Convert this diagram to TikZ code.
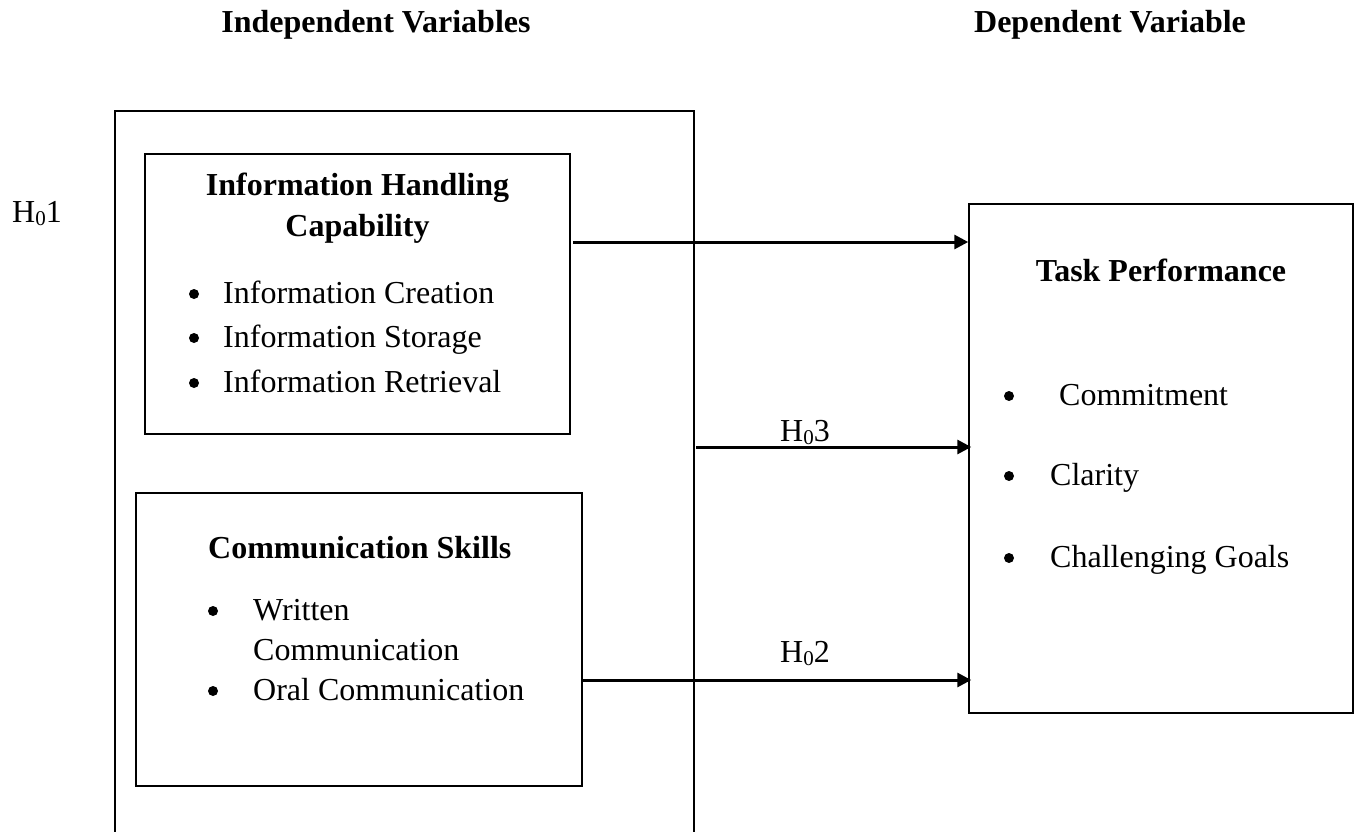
\documentclass[tikz,border=0pt]{standalone}
\usepackage{fontspec}
\setmainfont{Liberation Serif}
\usetikzlibrary{arrows.meta,calc}
\newcommand{\hyp}[1]{H\raisebox{-3pt}{\fontsize{21}{21}\selectfont 0}#1}
\begin{document}
\begin{tikzpicture}[x=1pt,y=-1pt,
  box/.style={draw, line width=1.5pt, inner sep=0pt},
  outerline/.style={line width=1.8pt},
  conn/.style={line width=3pt, -{Triangle[length=14pt,width=14pt]}},
  txt/.style={inner sep=0pt, font=\fontsize{32}{41}\selectfont},
  bold/.style={inner sep=0pt, font=\fontsize{32}{41}\selectfont\bfseries},
  dot/.style={circle, fill, inner sep=0pt, minimum size=10pt},
  item/.style={inner sep=0pt, anchor=base west, font=\fontsize{32}{40}\selectfont, align=left}
]
\useasboundingbox (0,0) rectangle (1357,832);
% headings
\node[bold, anchor=base] (hind) at (376,33) {Independent Variables};
\node[bold, anchor=base] (hdep) at (1110,33) {Dependent Variable};
% outer open box
\draw[outerline] (115,833) -- (115,111) -- (694,111) -- (694,833);
% H01
\node[txt, anchor=base west] (h1) at (12,222) {\hyp{1}};
% box 1
\node[box, minimum width=425, minimum height=280] (ihc) at (357.5,294) {};
\node[bold, anchor=base, align=center] (ihct) at (357.5,236) {Information Handling\\Capability};
\node[dot] (b11) at (194,294) {};
\node[item] (i11) at (223,303) {Information Creation};
\node[dot] (b12) at (194,338) {};
\node[item] (i12) at (223,347) {Information Storage};
\node[dot] (b13) at (194,383) {};
\node[item] (i13) at (223,392) {Information Retrieval};
% box 2
\node[box, minimum width=446, minimum height=293] (comm) at (359,639.5) {};
\node[bold, anchor=base west] (commt) at (208,558) {Communication Skills};
\node[dot] (b21) at (213,611) {};
\node[item] (i21) at (253,660) {Written\\Communication};
\node[dot] (b22) at (213,691) {};
\node[item] (i22) at (253,700) {Oral Communication};
% task box
\node[box, minimum width=384, minimum height=509] (task) at (1161,458.5) {};
\node[bold, anchor=base] (taskt) at (1161,281) {Task Performance};
\node[dot] (b31) at (1009,396) {};
\node[item] (i31) at (1059,405) {Commitment};
\node[dot] (b32) at (1009,476) {};
\node[item] (i32) at (1050,485) {Clarity};
\node[dot] (b33) at (1009,558) {};
\node[item] (i33) at (1050,567) {Challenging Goals};
% connectors
\coordinate (a1s) at (573,242);
\coordinate (a3s) at (696,447);
\coordinate (a2s) at (582,680);
\draw[conn] (a1s) -- (a1s -| task.west);
\draw[conn] (a3s) -- ($(a3s -| task.west)+(3,0)$);
\draw[conn] (a2s) -- ($(a2s -| task.west)+(3,0)$);
\node[txt, anchor=base west] (h3) at (780,441) {\hyp{3}};
\node[txt, anchor=base west] (h2) at (780,662) {\hyp{2}};
\end{tikzpicture}
\end{document}
